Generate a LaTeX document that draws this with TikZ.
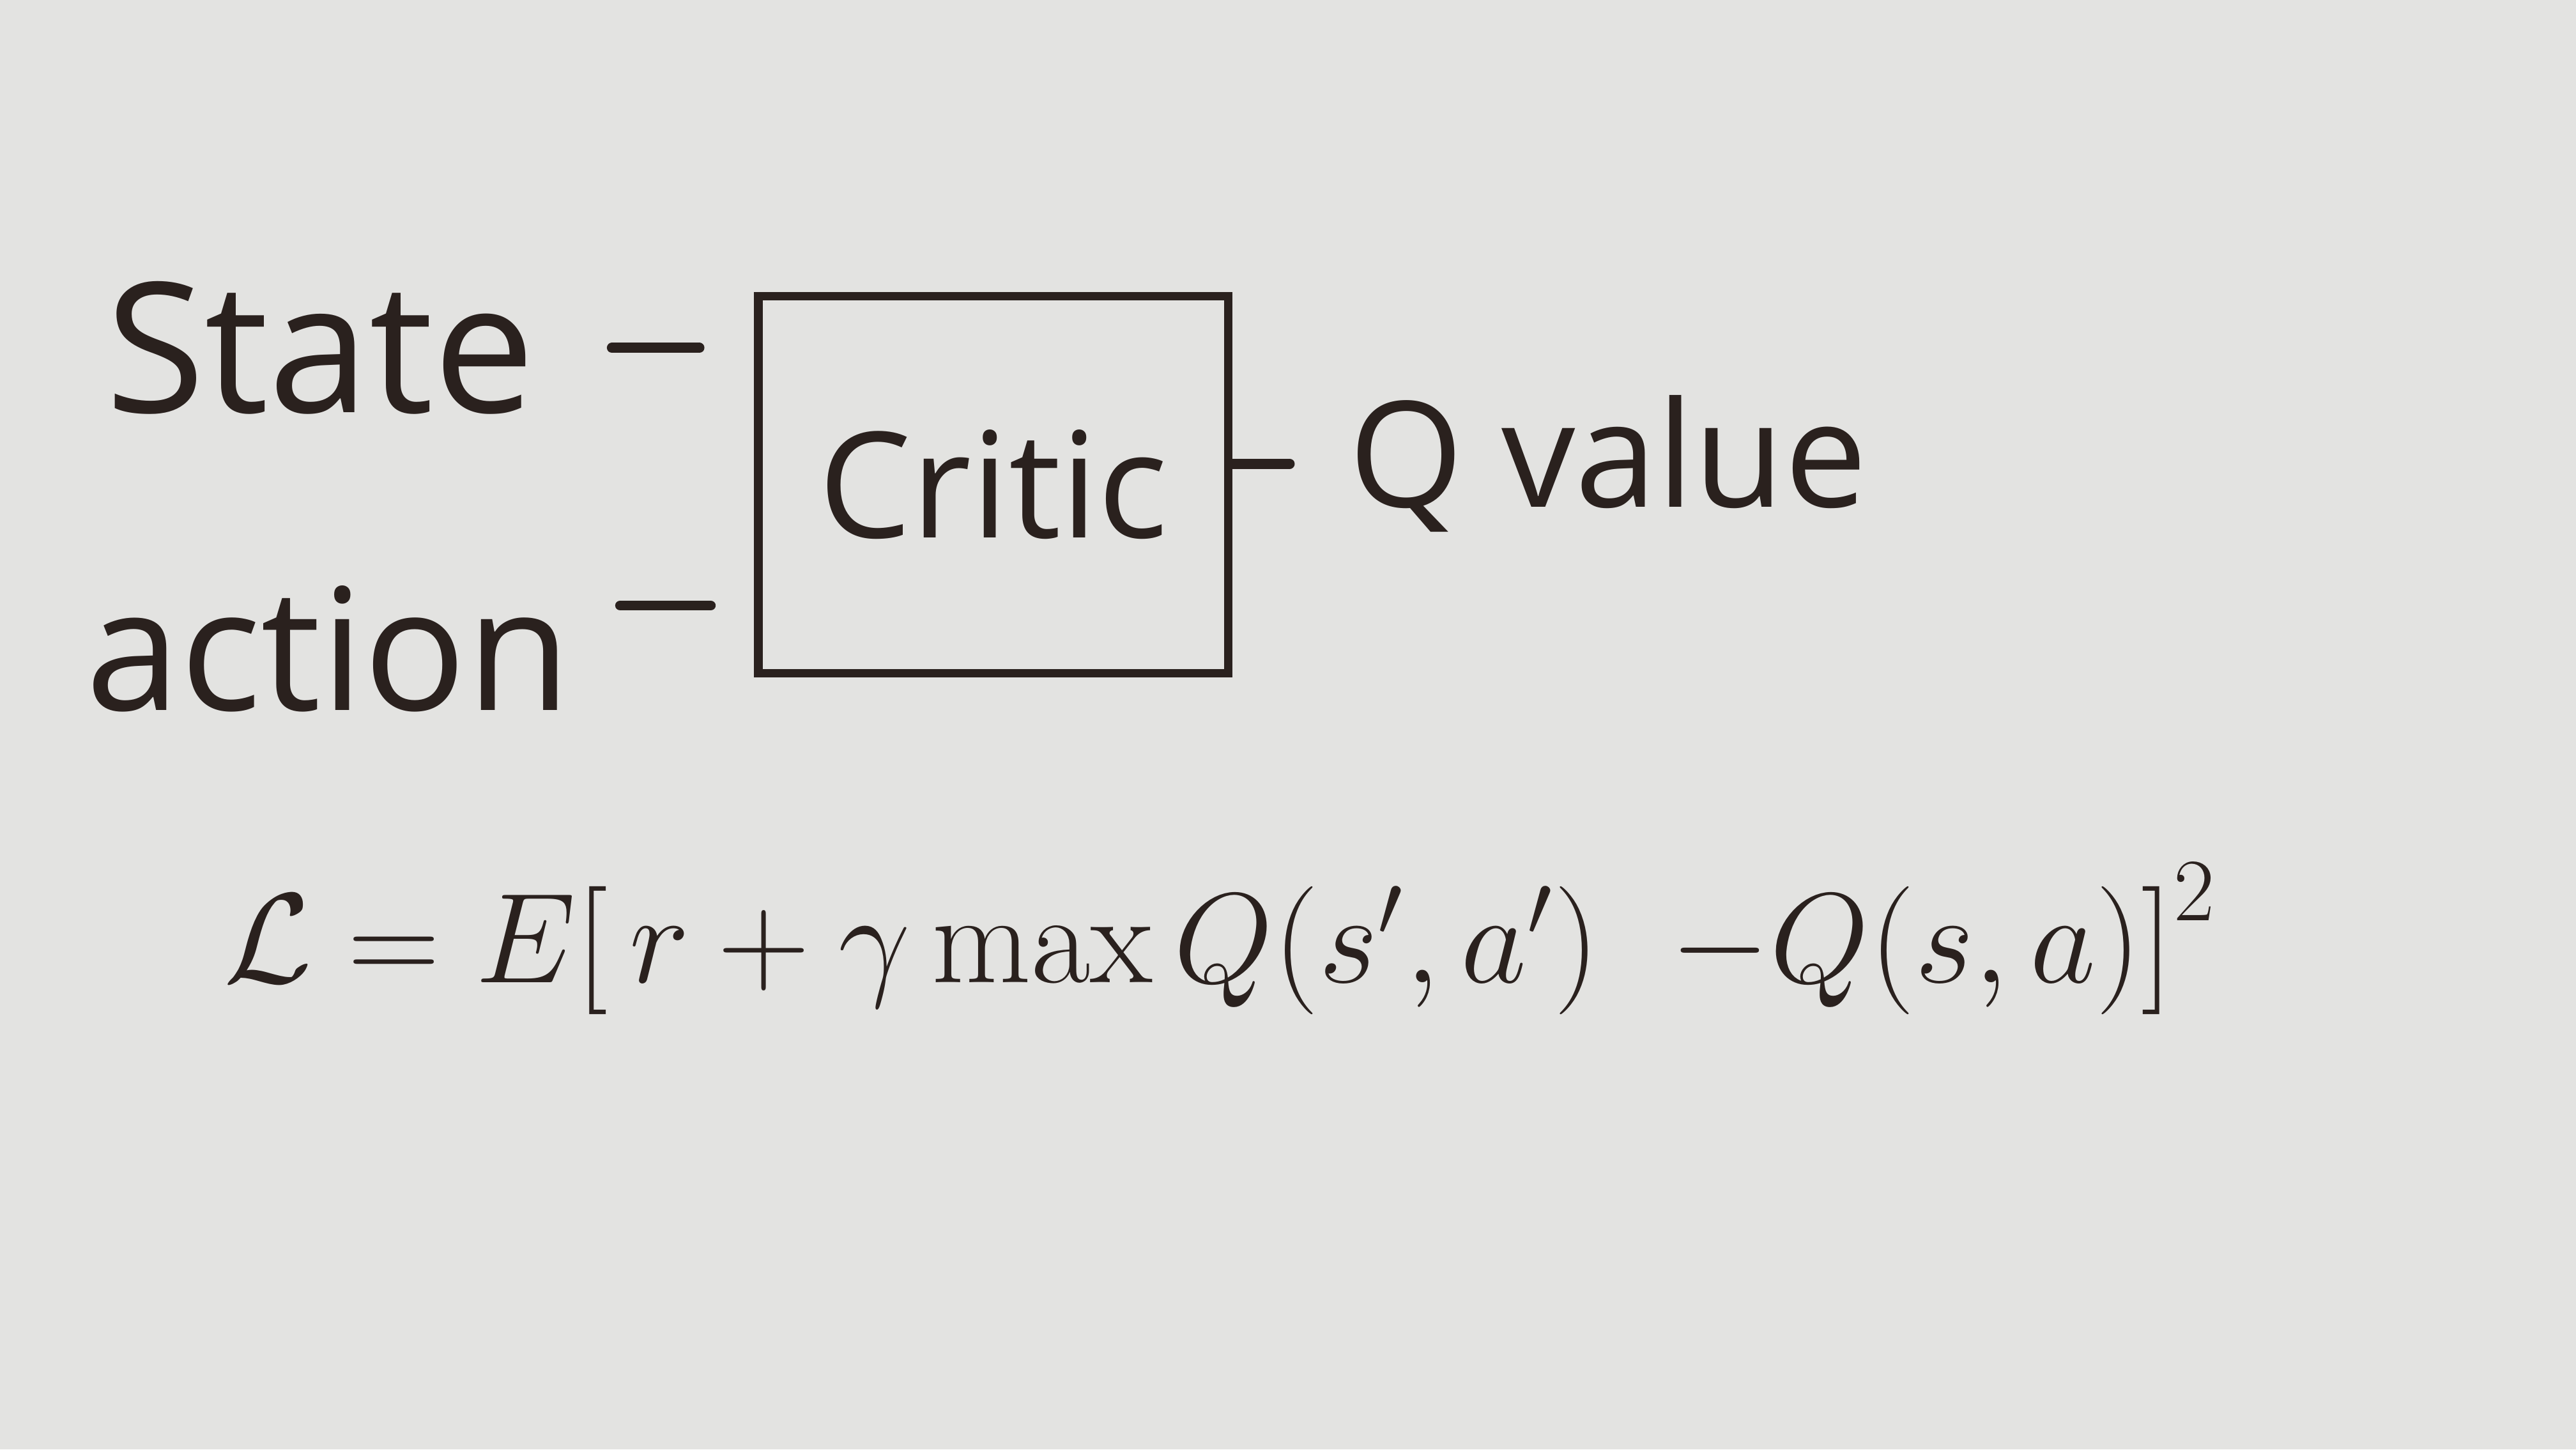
\documentclass[tikz,border=0pt]{standalone}
\usepackage{fontspec}
\setsansfont{Open Sans}
\usetikzlibrary{positioning}

\definecolor{paper}{HTML}{E3E3E1}
\definecolor{ink}{HTML}{2A211E}

\begin{document}
\begin{tikzpicture}[every node/.style={text=ink}]
            \tikzset{
                word/.style={
                        font=\sffamily\fontsize{32}{36}\selectfont, inner sep=0pt
                    },
                block/.style={
                        rectangle, draw=ink, line width=1.5pt, minimum width=2.92cm, minimum height=2.34cm,
                        font=\sffamily\fontsize{26}{30}\selectfont
                    },
                link/.style={
                        draw=ink, line width=1.8pt, line cap=round
                    }
            }

            % Paper
            \fill[paper] (0,0) rectangle (16,9);
            \useasboundingbox (0,0) rectangle (16,9);

            % Critic network
            \node[block] (critic) at (6.17,5.99) {Critic};

            \node[word] (state) at (1.99,6.84) {State};
            \node[word, font=\sffamily\fontsize{30}{34}\selectfont] (action) at (2.04,4.97) {action};
            \node[word, font=\sffamily\fontsize{26}{30}\selectfont, anchor=west] (qval) at (8.37,6.12) {Q value};

            \draw[link, shorten <=0.47cm, shorten >=0.34cm] (state) -- (state -| critic.west);
            \draw[link, shorten <=0.3cm, shorten >=0.27cm] ([yshift=0.27cm]action.east) -- ([yshift=0.27cm]action.east -| critic.west);
            \draw[link, shorten >=0.36cm] (critic.east |- qval.west) -- (qval.west);

            % Loss
            \node[font=\fontsize{25}{30}\selectfont, scale=0.91, transform shape] (loss) at (7.58,3.17)
                {$\mathcal{L} = E\bigl[\,r + \gamma \max Q(s',a') \;\; {-}Q(s,a)\bigr]^2$};
        \end{tikzpicture}
\end{document}
